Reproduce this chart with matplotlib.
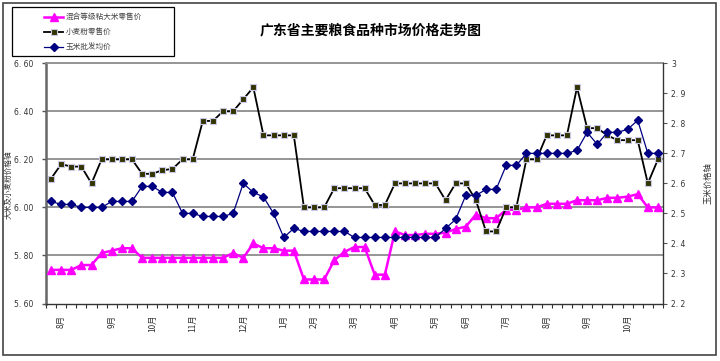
import numpy as np
import matplotlib
matplotlib.use("Agg")
import matplotlib.pyplot as plt
from matplotlib.patches import Rectangle
from matplotlib.lines import Line2D

plt.rcParams['font.family'] = ['Noto Sans CJK SC', 'DejaVu Sans']

# weekly observations (61 points)
rice = [5.74, 5.74, 5.74, 5.76, 5.76, 5.81, 5.82, 5.83, 5.83, 5.79,
        5.79, 5.79, 5.79, 5.79, 5.79, 5.79, 5.79, 5.79, 5.81, 5.79,
        5.85, 5.83, 5.83, 5.82, 5.82, 5.70, 5.70, 5.70, 5.78, 5.815,
        5.835, 5.835, 5.72, 5.72, 5.90, 5.885, 5.885, 5.89, 5.89, 5.895,
        5.91, 5.92, 5.97, 5.955, 5.955, 5.99, 5.99, 6.00, 6.00, 6.015,
        6.015, 6.015, 6.03, 6.03, 6.03, 6.04, 6.04, 6.045, 6.055, 6.00,
        6.00]
wheat = [6.12, 6.18, 6.17, 6.17, 6.10, 6.20, 6.20, 6.20, 6.20, 6.14,
         6.14, 6.155, 6.16, 6.20, 6.20, 6.36, 6.36, 6.40, 6.40, 6.45,
         6.50, 6.30, 6.30, 6.30, 6.30, 6.00, 6.00, 6.00, 6.08, 6.08,
         6.08, 6.08, 6.01, 6.01, 6.10, 6.10, 6.10, 6.10, 6.10, 6.03,
         6.10, 6.10, 6.03, 5.90, 5.90, 6.00, 6.00, 6.20, 6.20, 6.30,
         6.30, 6.30, 6.50, 6.33, 6.33, 6.30, 6.28, 6.28, 6.28, 6.10,
         6.20]
corn = [2.54, 2.53, 2.53, 2.52, 2.52, 2.52, 2.54, 2.54, 2.54, 2.59,
        2.59, 2.57, 2.57, 2.50, 2.50, 2.49, 2.49, 2.49, 2.50, 2.60,
        2.57, 2.555, 2.50, 2.42, 2.45, 2.44, 2.44, 2.44, 2.44, 2.44,
        2.42, 2.42, 2.42, 2.42, 2.42, 2.42, 2.42, 2.42, 2.42, 2.45,
        2.48, 2.56, 2.56, 2.58, 2.58, 2.66, 2.66, 2.70, 2.70, 2.70,
        2.70, 2.70, 2.71, 2.77, 2.73, 2.77, 2.77, 2.78, 2.81, 2.70,
        2.70]

month_pos = [1, 6, 10, 14, 19, 23, 26, 30, 34, 38, 41, 45, 49, 53, 57]
month_lbl = ['8月', '9月', '10月', '11月', '12月', '1月', '2月', '3月',
             '4月', '5月', '6月', '7月', '8月', '9月', '10月']

left_ticks = [5.6, 5.8, 6.0, 6.2, 6.4, 6.6]
left_lbl = ['5. 60', '5. 80', '6. 00', '6. 20', '6. 40', '6. 60']
right_ticks = [2.2, 2.3, 2.4, 2.5, 2.6, 2.7, 2.8, 2.9, 3.0]
right_lbl = ['2. 2', '2. 3', '2. 4', '2. 5', '2. 6', '2. 7', '2. 8', '2. 9', '3']

names = ['混合等级粘大米零售价', '小麦粉零售价', '玉米批发均价']

W, H = 720, 361
fig = plt.figure(figsize=(W / 100, H / 100), dpi=100)
fig.patches.append(Rectangle((3 / W, 6 / H), 713 / W, 352 / H, transform=fig.transFigure,
                             fill=False, edgecolor='#444444', linewidth=1.2))

ax = fig.add_axes([46 / W, 1 - 303.5 / H, 617 / W, 240.2 / H])
ax2 = ax.twinx()
x = np.arange(len(wheat))
txt = '#333333'

for y in [5.8, 6.0, 6.2, 6.4]:
    ax.axhline(y, color='#8c8c8c', lw=1.3, zorder=0)

styles = [
    dict(color='#ff00ff', lw=1.8, marker='^', ms=6, mfc='#ff00ff', mec='#ff00ff'),
    dict(color='black', lw=1.3, marker='s', ms=5, mfc='#333300', mec='#c8c8e8', mew=0.8),
    dict(color='#000080', lw=0.9, marker='D', ms=4.5, mfc='#000080', mec='#000080'),
]

ax.plot(x, rice, zorder=3, **styles[0])
ax.plot(x, wheat, zorder=4, **styles[1])
ax2.plot(x, corn, zorder=5, **styles[2])

ax.set_xlim(-0.5, len(wheat) - 0.5)
ax.set_ylim(5.6, 6.6)
ax2.set_ylim(2.2, 3.0)

ax.set_yticks(left_ticks)
ax.set_yticklabels(left_lbl, fontsize=5.5, color=txt, family='DejaVu Sans')
ax.tick_params(axis='y', length=3, width=1, pad=6, color='#555555')
ax2.set_yticks(right_ticks)
ax2.set_yticklabels(right_lbl, fontsize=5.5, color=txt, family='DejaVu Sans')
ax2.tick_params(axis='y', length=3, width=0.8, pad=3, color='#555555')

ax.set_xticks(month_pos)
ax.set_xticklabels(month_lbl, rotation=90, fontsize=6, color=txt)
ax.set_xticks(np.arange(-0.5, len(wheat), 1), minor=True)
ax.tick_params(axis='x', which='major', length=0, pad=8)
ax.tick_params(axis='x', which='minor', length=3, width=0.8, color='#333333')

ax.spines['left'].set_color('#666666')
ax.spines['left'].set_linewidth(1.8)
ax.spines['bottom'].set_color('#333333')
ax.spines['bottom'].set_linewidth(1.0)
ax.spines['top'].set_color('#8c8c8c')
ax.spines['top'].set_linewidth(1.3)
ax2.spines['right'].set_color('#333333')
ax2.spines['right'].set_linewidth(0.9)
for s in ['left', 'top', 'bottom']:
    ax2.spines[s].set_visible(False)

fig.text(9 / W, 1 - 185 / H, '大米及小麦粉价格轴', rotation=90, fontsize=5.5,
         color=txt, ha='center', va='center')
fig.text(708 / W, 1 - 183 / H, '玉米价格轴', rotation=90, fontsize=6,
         color=txt, ha='center', va='center')
fig.text(371 / W, 1 - 30 / H, '广东省主要粮食品种市场价格走势图', fontsize=10,
         fontweight='bold', ha='center', va='center', color='black')

# legend box drawn by hand, like the spreadsheet one
fig.patches.append(Rectangle((12 / W, 1 - 56 / H), 162 / W, 49 / H, transform=fig.transFigure,
                             fill=True, facecolor='white', edgecolor='black', linewidth=0.9))
for k, (name, st) in enumerate(zip(names, styles)):
    yy = 1 - (16.5 + 15 * k) / H
    fig.add_artist(Line2D([44 / W, 63 / W], [yy, yy], transform=fig.transFigure,
                          color=st['color'], lw=st['lw']))
    mk = {key: v for key, v in st.items() if key not in ('color', 'lw')}
    fig.add_artist(Line2D([53.5 / W], [yy], transform=fig.transFigure, ls='none', **mk))
    fig.text(66 / W, yy, name, fontsize=5.5, color='#444444', va='center', ha='left')

fig.savefig('out.png', dpi=100)
